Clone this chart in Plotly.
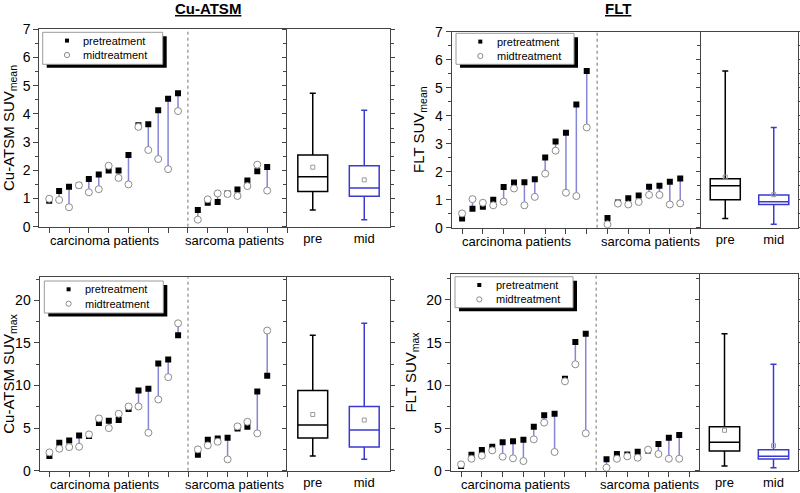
import plotly.graph_objects as go

W, H = 800, 493
FONT = "Liberation Sans, Arial, sans-serif"

# ------------------------------------------------------------------ data
group_labels = ["carcinoma patients", "sarcoma patients"]
box_labels = ["pre", "mid"]
series_names = ["pretreatment", "midtreatment"]
panel_titles = ["Cu-ATSM", "FLT"]

# Cu-ATSM SUVmean
cu_mean_carc_pre = [0.92, 1.27, 1.42, 1.47, 1.69, 1.85, 1.99, 1.99, 2.54, 3.60, 3.63, 4.13, 4.54, 4.73]
cu_mean_carc_mid = [0.99, 0.95, 0.69, 1.47, 1.22, 1.33, 2.16, 1.73, 1.50, 3.54, 2.72, 2.40, 2.04, 4.10]
cu_mean_sarc_pre = [0.59, 0.85, 0.88, 1.18, 1.32, 1.64, 1.97, 2.12]
cu_mean_sarc_mid = [0.25, 0.97, 1.18, 1.16, 1.09, 1.44, 2.20, 1.28]
cu_mean_box_low = [0.59, 0.25]
cu_mean_box_q1 = [1.25, 1.08]
cu_mean_box_med = [1.77, 1.37]
cu_mean_box_q3 = [2.54, 2.16]
cu_mean_box_high = [4.73, 4.13]
cu_mean_box_mean = [2.11, 1.66]

# FLT SUVmean
flt_mean_carc_pre = [0.33, 0.68, 0.75, 1.00, 1.45, 1.61, 1.62, 1.73, 2.51, 3.08, 3.39, 4.40, 5.60]
flt_mean_carc_mid = [0.51, 1.02, 0.89, 0.80, 0.93, 1.40, 0.80, 1.10, 1.93, 2.75, 1.25, 1.13, 3.58]
flt_mean_sarc_pre = [0.35, 0.90, 1.05, 1.15, 1.46, 1.50, 1.64, 1.76]
flt_mean_sarc_mid = [0.12, 0.86, 0.83, 0.92, 1.17, 1.17, 0.83, 0.87]
flt_mean_box_low = [0.33, 0.12]
flt_mean_box_q1 = [1.00, 0.83]
flt_mean_box_med = [1.50, 0.93]
flt_mean_box_q3 = [1.75, 1.17]
flt_mean_box_high = [5.60, 3.58]
flt_mean_box_mean = [1.81, 1.18]

# Cu-ATSM SUVmax
cu_max_carc_pre = [1.72, 3.28, 3.55, 4.14, 4.06, 5.59, 5.86, 5.94, 7.23, 9.41, 9.61, 12.58, 13.05, 15.90]
cu_max_carc_mid = [2.15, 2.58, 2.77, 2.81, 4.26, 6.13, 5.00, 6.68, 7.54, 7.54, 4.45, 8.36, 10.98, 17.30]
cu_max_sarc_pre = [1.88, 3.63, 3.79, 3.87, 4.96, 5.16, 9.30, 11.13]
cu_max_sarc_mid = [2.50, 2.97, 3.40, 1.33, 5.20, 5.74, 4.38, 16.45]
cu_max_box_low = [1.72, 1.33]
cu_max_box_q1 = [3.83, 2.77]
cu_max_box_med = [5.35, 4.77]
cu_max_box_q3 = [9.41, 7.54]
cu_max_box_high = [15.90, 17.30]
cu_max_box_mean = [6.60, 5.94]

# FLT SUVmax
flt_max_carc_pre = [0.55, 1.88, 2.42, 2.81, 3.32, 3.44, 3.63, 5.16, 6.48, 6.68, 10.78, 15.08, 16.05]
flt_max_carc_mid = [0.74, 1.40, 1.76, 2.38, 1.64, 1.45, 1.13, 3.67, 5.63, 2.19, 10.47, 12.46, 4.38]
flt_max_sarc_pre = [1.33, 1.95, 1.91, 2.23, 2.38, 3.13, 3.87, 4.18]
flt_max_sarc_mid = [0.35, 1.40, 1.68, 1.52, 2.46, 1.95, 1.40, 1.40]
flt_max_box_low = [0.55, 0.35]
flt_max_box_q1 = [2.30, 1.37]
flt_max_box_med = [3.32, 1.68]
flt_max_box_q3 = [5.16, 2.46]
flt_max_box_high = [16.05, 12.46]
flt_max_box_mean = [4.73, 2.93]

# ------------------------------------------------------------------ layout config (pixels)
panels = [
    dict(cp=cu_mean_carc_pre, cm=cu_mean_carc_mid, sp=cu_mean_sarc_pre, sm=cu_mean_sarc_mid,
         bl=cu_mean_box_low, bq1=cu_mean_box_q1, bmed=cu_mean_box_med, bq3=cu_mean_box_q3,
         bh=cu_mean_box_high, bmean=cu_mean_box_mean,
         ytitle="Cu-ATSM SUV<sub>mean</sub>", yr=[0, 7], dt=1, minor=0.5,
         px=(39.3, 287, 390), py=(29.3, 226.7), lab=(6.6, 19.7), laby=240.7,
         leg=(42.7, 32.3, 120, 32), bw=0.58),
    dict(cp=flt_mean_carc_pre, cm=flt_mean_carc_mid, sp=flt_mean_sarc_pre, sm=flt_mean_sarc_mid,
         bl=flt_mean_box_low, bq1=flt_mean_box_q1, bmed=flt_mean_box_med, bq3=flt_mean_box_q3,
         bh=flt_mean_box_high, bmean=flt_mean_box_mean,
         ytitle="FLT SUV<sub>mean</sub>", yr=[0, 7], dt=1, minor=0.5,
         px=(451.7, 701, 798), py=(31.7, 227.7), lab=(6.3, 19.1), laby=241.5,
         leg=(456, 33.3, 118, 31), bw=0.62),
    dict(cp=cu_max_carc_pre, cm=cu_max_carc_mid, sp=cu_max_sarc_pre, sm=cu_max_sarc_mid,
         bl=cu_max_box_low, bq1=cu_max_box_q1, bmed=cu_max_box_med, bq3=cu_max_box_q3,
         bh=cu_max_box_high, bmean=cu_max_box_mean,
         ytitle="Cu-ATSM SUV<sub>max</sub>", yr=[0, 22.7], dt=5, minor=2.5,
         px=(39.5, 287, 390), py=(277.3, 470.7), lab=(6.6, 19.7), laby=484,
         leg=(44.3, 281, 119, 32), bw=0.58),
    dict(cp=flt_max_carc_pre, cm=flt_max_carc_mid, sp=flt_max_sarc_pre, sm=flt_max_sarc_mid,
         bl=flt_max_box_low, bq1=flt_max_box_q1, bmed=flt_max_box_med, bq3=flt_max_box_q3,
         bh=flt_max_box_high, bmean=flt_max_box_mean,
         ytitle="FLT SUV<sub>max</sub>", yr=[0, 23], dt=5, minor=2.5,
         px=(450.7, 700, 798), py=(274.3, 470.7), lab=(6.3, 19.1), laby=484,
         leg=(455, 276.7, 118, 31), bw=0.62),
]

LINE = "#444444"
CONNECT = "#8686d6"
BLUE = "#3a3ad0"
MIDC = "#8c8c8c"

fig = go.Figure()
layout = dict(width=W, height=H, margin=dict(l=0, r=0, t=0, b=0, autoexpand=False),
              plot_bgcolor="white", paper_bgcolor="white",
              font=dict(family=FONT, size=13, color="black"),
              showlegend=False, annotations=[], shapes=[])


def px2x(p):
    return p / W


def py2y(p):
    return 1 - p / H


for i, p in enumerate(panels):
    a, b = 2 * i + 1, 2 * i + 2
    xa = "x" if a == 1 else f"x{a}"
    ya = "y" if a == 1 else f"y{a}"
    xb, yb = f"x{b}", f"y{b}"
    nc, ns = len(p["cp"]), len(p["sp"])
    xc = list(range(1, nc + 1))
    xs = list(range(nc + 2, nc + 2 + ns))
    xall = xc + xs
    pre = p["cp"] + p["sp"]
    mid = p["cm"] + p["sm"]
    xmax = nc + ns + 3

    # connecting lines
    lx, ly = [], []
    for xv, y0, y1 in zip(xall, pre, mid):
        lx += [xv, xv, None]
        ly += [y0, y1, None]
    fig.add_trace(go.Scatter(x=lx, y=ly, mode="lines", line=dict(color=CONNECT, width=1.5),
                             xaxis=xa, yaxis=ya, hoverinfo="skip"))
    fig.add_trace(go.Scatter(x=xall, y=pre, mode="markers", name=series_names[0],
                             marker=dict(symbol="square", size=6, color="black"),
                             xaxis=xa, yaxis=ya))
    fig.add_trace(go.Scatter(x=xall, y=mid, mode="markers", name=series_names[1],
                             marker=dict(symbol="circle", size=7, color="white",
                                         line=dict(color=MIDC, width=1)),
                             xaxis=xa, yaxis=ya))
    # boxes
    for k, col in enumerate(["black", BLUE]):
        fig.add_trace(go.Box(x=[box_labels[k]], q1=[p["bq1"][k]], median=[p["bmed"][k]],
                             q3=[p["bq3"][k]], lowerfence=[p["bl"][k]], upperfence=[p["bh"][k]],
                             line=dict(color=col, width=1.5), fillcolor="rgba(0,0,0,0)",
                             width=p["bw"], whiskerwidth=0.2, boxpoints=False,
                             xaxis=xb, yaxis=yb, hoverinfo="skip"))
    fig.add_trace(go.Scatter(x=box_labels, y=p["bmean"], mode="markers",
                             marker=dict(symbol="square-open", size=4, color="#9a9a9a",
                                         line=dict(width=1)),
                             xaxis=xb, yaxis=yb, hoverinfo="skip"))

    x0, x1, x2 = p["px"]
    ytop, ybot = p["py"]
    ydom = [py2y(ybot), py2y(ytop)]
    minor = dict(dtick=p["minor"], ticks="outside", ticklen=3, tickcolor=LINE)
    layout["xaxis" + ("" if a == 1 else str(a))] = dict(
        domain=[px2x(x0), px2x(x1)], range=[0, xmax], anchor=ya, automargin=False,
        tickmode="linear", tick0=1, dtick=2, ticks="outside", ticklen=5, tickcolor=LINE,
        showticklabels=False, showline=True, linecolor=LINE, linewidth=1, mirror=True,
        showgrid=False, zeroline=False)
    layout[f"xaxis{b}"] = dict(
        domain=[px2x(x1), px2x(x2)], type="category", range=[-0.5, 1.5], anchor=yb,
        categoryorder="array", categoryarray=box_labels, automargin=False,
        ticks="", showline=True, linecolor=LINE, linewidth=1, mirror=True,
        showgrid=False, zeroline=False, tickfont=dict(size=13, family=FONT))
    layout["yaxis" + ("" if a == 1 else str(a))] = dict(
        domain=ydom, range=p["yr"], anchor=xa, tickmode="linear", tick0=0, dtick=p["dt"],
        ticks="outside", ticklen=5, tickcolor=LINE, minor=minor, automargin=False,
        showline=True, linecolor=LINE, linewidth=1, showgrid=False, zeroline=False,
        tickfont=dict(size=14, family=FONT),
        title=dict(text=p["ytitle"], font=dict(size=15, family=FONT), standoff=6))
    layout[f"yaxis{b}"] = dict(
        domain=ydom, range=p["yr"], anchor=xb, tickmode="linear", tick0=0, dtick=p["dt"],
        ticks="outside", ticklen=4, tickcolor=LINE, automargin=False,
        minor=dict(dtick=p["minor"], ticks="outside", ticklen=3, tickcolor=LINE),
        showticklabels=False, showline=True, linecolor=LINE, linewidth=1, mirror="ticks",
        showgrid=False, zeroline=False)

    # dashed separator between groups
    layout["shapes"].append(dict(type="line", xref=xa, yref=f"{ya} domain", x0=nc + 1, x1=nc + 1,
                                 y0=0, y1=1, line=dict(color="#707070", width=1, dash="3px,3px")))
    # group labels
    for lbl, xv in zip(group_labels, p["lab"]):
        layout["annotations"].append(dict(text=lbl, xref=xa, yref="paper", x=xv, y=py2y(p["laby"]),
                                          xanchor="center", yanchor="middle", showarrow=False,
                                          font=dict(size=13, family=FONT)))
    # legend box with drop shadow
    L, T, lw, lh = p["leg"]
    layout["shapes"].append(dict(type="rect", xref="paper", yref="paper", layer="above",
                                 x0=px2x(L + 4), x1=px2x(L + lw + 4),
                                 y0=py2y(T + lh + 3.5), y1=py2y(T + 4),
                                 fillcolor="black", line=dict(width=0)))
    layout["shapes"].append(dict(type="rect", xref="paper", yref="paper", layer="above",
                                 x0=px2x(L), x1=px2x(L + lw), y0=py2y(T + lh), y1=py2y(T),
                                 fillcolor="white", line=dict(color="#9a9a9a", width=1)))
    # legend symbols
    sx, r1, r2 = L + 24.3, T + 8.3, T + 22.7
    layout["shapes"].append(dict(type="rect", xref="paper", yref="paper", layer="above",
                                 x0=px2x(sx - 2), x1=px2x(sx + 2), y0=py2y(r1 + 2), y1=py2y(r1 - 2),
                                 fillcolor="black", line=dict(width=0)))
    layout["shapes"].append(dict(type="circle", xref="paper", yref="paper", layer="above",
                                 x0=px2x(sx - 2.6), x1=px2x(sx + 2.6), y0=py2y(r2 + 2.6), y1=py2y(r2 - 2.6),
                                 fillcolor="white", line=dict(color=MIDC, width=1)))
    for name, ry in zip(series_names, [r1, r2]):
        layout["annotations"].append(dict(text=name, xref="paper", yref="paper",
                                          x=px2x(L + 38.5), y=py2y(ry), xanchor="left", yanchor="middle",
                                          showarrow=False, font=dict(size=11, family=FONT)))

# panel titles
for t, xc in zip(panel_titles, [208, 618]):
    layout["annotations"].append(dict(text=f"<b>{t}</b>", xref="paper", yref="paper",
                                      x=px2x(xc), y=py2y(9), xanchor="center", yanchor="middle",
                                      showarrow=False,
                                      font=dict(size=15, family=FONT, lineposition="under")))

fig.update_layout(**layout)
fig.write_html("out.html", config={"displayModeBar": False},
               post_script="document.body.style.margin='0';document.body.style.overflow='hidden';")
